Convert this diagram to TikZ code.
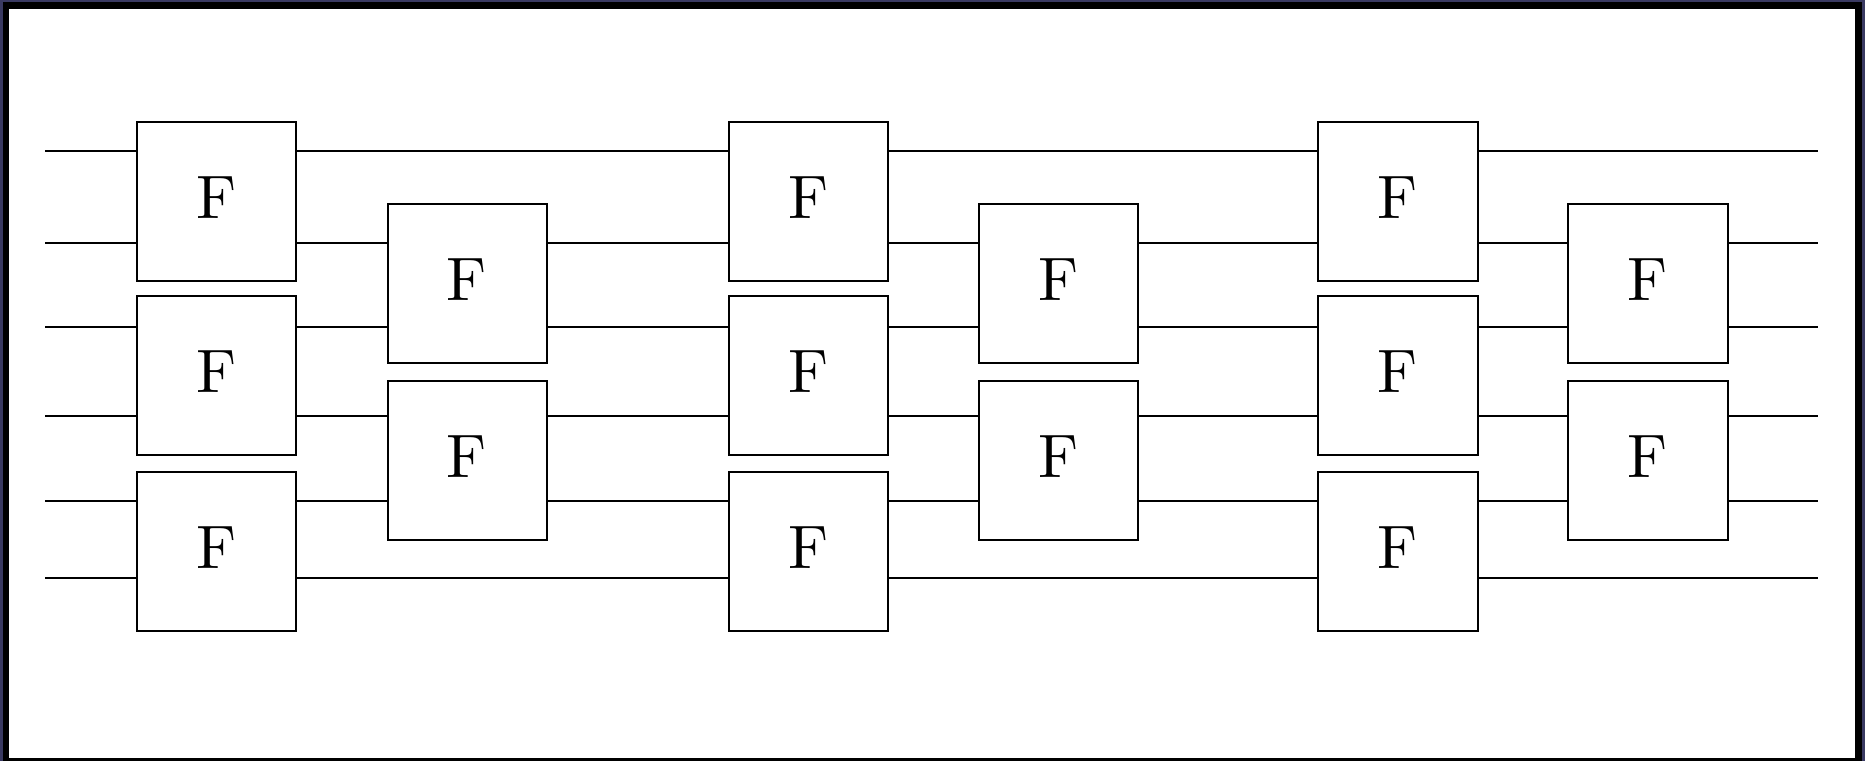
\documentclass[tikz,border=0pt]{standalone}
\definecolor{frameblue}{RGB}{58,58,98}
\font\Ffont=cmr10 at 30.7pt
\begin{document}
\begin{tikzpicture}[x=0.5pt,y=-0.5pt,
  fbox/.style={draw=black,line width=1pt,fill=white,inner sep=0pt,
    minimum width=79.5pt,minimum height=79.5pt,
    text height=21pt,text depth=4pt,
    font=\Ffont},
  wire/.style={draw=black,line width=1pt}]
% frame
\fill[frameblue] (0,0) rectangle (1865,761);
\fill[black] (3,2) rectangle (1862,761);
\fill[white] (9,9) rectangle (1855,758);
\useasboundingbox (0,0) rectangle (1865,761);
% boxes
\node[fbox] (c1a) at (216.8,201.8) {F};
\node[fbox] (c1b) at (216.8,375.5) {F};
\node[fbox] (c1c) at (216.8,551.3) {F};
\node[fbox] (c2a) at (467,283.8) {F};
\node[fbox] (c2b) at (467,460) {F};
\node[fbox] (c3a) at (808.3,201.8) {F};
\node[fbox] (c3b) at (808.3,375.5) {F};
\node[fbox] (c3c) at (808.3,551.3) {F};
\node[fbox] (c4a) at (1058.5,283.8) {F};
\node[fbox] (c4b) at (1058.5,460) {F};
\node[fbox, minimum width=80.3pt] (c5a) at (1398,201.8) {F};
\node[fbox, minimum width=80.3pt] (c5b) at (1398,375.5) {F};
\node[fbox, minimum width=80.3pt] (c5c) at (1398,551.3) {F};
\node[fbox, minimum width=80.3pt] (c6a) at (1648,283.8) {F};
\node[fbox, minimum width=80.3pt] (c6b) at (1648,460) {F};
% wire end points
\foreach \k/\y in {1/151.3,2/242.6,3/327,4/415.9,5/500.6,6/577.8}{
  \coordinate (L\k) at (45,\y);
  \coordinate (R\k) at (1818,\y);
}
% wires
\draw[wire] (L1) -- (c1a.west|-L1) (c1a.east|-L1) -- (c3a.west|-L1)
  (c3a.east|-L1) -- (c5a.west|-L1) (c5a.east|-L1) -- (R1);
\draw[wire] (L2) -- (c1a.west|-L2) (c1a.east|-L2) -- (c2a.west|-L2)
  (c2a.east|-L2) -- (c3a.west|-L2) (c3a.east|-L2) -- (c4a.west|-L2)
  (c4a.east|-L2) -- (c5a.west|-L2) (c5a.east|-L2) -- (c6a.west|-L2)
  (c6a.east|-L2) -- (R2);
\draw[wire] (L3) -- (c1b.west|-L3) (c1b.east|-L3) -- (c2a.west|-L3)
  (c2a.east|-L3) -- (c3b.west|-L3) (c3b.east|-L3) -- (c4a.west|-L3)
  (c4a.east|-L3) -- (c5b.west|-L3) (c5b.east|-L3) -- (c6a.west|-L3)
  (c6a.east|-L3) -- (R3);
\draw[wire] (L4) -- (c1b.west|-L4) (c1b.east|-L4) -- (c2b.west|-L4)
  (c2b.east|-L4) -- (c3b.west|-L4) (c3b.east|-L4) -- (c4b.west|-L4)
  (c4b.east|-L4) -- (c5b.west|-L4) (c5b.east|-L4) -- (c6b.west|-L4)
  (c6b.east|-L4) -- (R4);
\draw[wire] (L5) -- (c1c.west|-L5) (c1c.east|-L5) -- (c2b.west|-L5)
  (c2b.east|-L5) -- (c3c.west|-L5) (c3c.east|-L5) -- (c4b.west|-L5)
  (c4b.east|-L5) -- (c5c.west|-L5) (c5c.east|-L5) -- (c6b.west|-L5)
  (c6b.east|-L5) -- (R5);
\draw[wire] (L6) -- (c1c.west|-L6) (c1c.east|-L6) -- (c3c.west|-L6)
  (c3c.east|-L6) -- (c5c.west|-L6) (c5c.east|-L6) -- (R6);
\end{tikzpicture}
\end{document}
